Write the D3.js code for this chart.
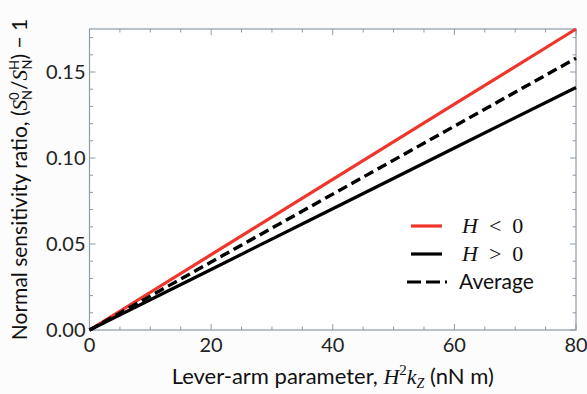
<!DOCTYPE html>
<html>
<head>
<meta charset="utf-8">
<script src="https://cdn.jsdelivr.net/npm/d3@7"></script>
<style>
body{margin:0;background:#fcfcfd;}
</style>
</head>
<body>
<div class="box"></div>
<script>
// values
const leverArm=[0,20,40,60,80];
const hNeg=[0,0.0438,0.0876,0.1313,0.175];
const hPos=[0,0.0352,0.0705,0.1058,0.141];
const average=[0,0.0395,0.079,0.1185,0.158];
const xTicks=[0,20,40,60,80];
const yTicks=[0,0.05,0.10,0.15];

const W=587,H=394;
const margin={top:29,right:11,bottom:64,left:89.5};
const graphW=W-margin.left-margin.right;
const graphH=H-margin.top-margin.bottom;

const svg=d3.select('.box').append('svg').attr('width',W).attr('height',H).style('background','#fcfcfd');
const g=svg.append('g').attr('transform',`translate(${margin.left},${margin.top})`);

const x=d3.scaleLinear().domain([0,80]).range([0,graphW]);
const y=d3.scaleLinear().domain([0,0.175]).range([graphH,0]);

const axisCol='#8d9ba6';
const font='Lato, "Open Sans", sans-serif';

// frame
g.append('rect').attr('width',graphW).attr('height',graphH)
  .attr('fill','#ffffff').attr('stroke',axisCol).attr('stroke-width',1.2);

// ticks, inward on all sides
const xMinor=d3.range(0,81,5).filter(v => v%20!==0);
const yMinor=d3.range(0,0.1751,0.01).filter(v => Math.round(v*100)%5!==0);
const tickLine=(sel,data,len,side) => {
  sel.selectAll(null).data(data).enter().append('line')
    .attr('stroke',axisCol).attr('stroke-width',1)
    .each(function(v){
      const l=d3.select(this);
      if(side==='b') l.attr('x1',x(v)).attr('x2',x(v)).attr('y1',graphH).attr('y2',graphH-len);
      if(side==='t') l.attr('x1',x(v)).attr('x2',x(v)).attr('y1',0).attr('y2',len);
      if(side==='l') l.attr('y1',y(v)).attr('y2',y(v)).attr('x1',0).attr('x2',len);
      if(side==='r') l.attr('y1',y(v)).attr('y2',y(v)).attr('x1',graphW).attr('x2',graphW-len);
    });
};
const ticks=g.append('g');
['b','t'].forEach(s => {tickLine(ticks,xTicks,6,s);tickLine(ticks,xMinor,3.5,s);});
['l','r'].forEach(s => {tickLine(ticks,yTicks,6,s);tickLine(ticks,yMinor,3.5,s);});

// tick labels
g.selectAll('.xl').data(xTicks).enter().append('text')
  .attr('x',d => x(d)).attr('y',graphH+22)
  .attr('text-anchor','middle').attr('font-family',font).attr('font-size',20).attr('fill','#222')
  .text(d => d);
g.selectAll('.yl').data(yTicks).enter().append('text')
  .attr('x',-4).attr('y',d => y(d)+7)
  .attr('text-anchor','end').attr('font-family',font).attr('font-size',20).attr('fill','#222')
  .text(d => d3.format('.2f')(d));

// curves
const line=d3.line().x((d,i) => x(leverArm[i])).y(d => y(d));
g.append('path').datum(hNeg).attr('d',line).attr('fill','none').attr('stroke','#f0352a').attr('stroke-width',3.2);
g.append('path').datum(average).attr('d',line).attr('fill','none').attr('stroke','#000').attr('stroke-width',3.4).attr('stroke-dasharray','10,5');
g.append('path').datum(hPos).attr('d',line).attr('fill','none').attr('stroke','#000').attr('stroke-width',3.2);

// legend
const serif='"Liberation Serif", "DejaVu Serif", serif';
const leg=svg.append('g');
const items=[
  {col:'#f0352a',dash:null,y:226},
  {col:'#000',dash:null,y:254},
  {col:'#000',dash:'14,5',y:282}
];
items.forEach(it => {
  leg.append('line').attr('x1',it.dash?407:411).attr('x2',it.dash?447:442).attr('y1',it.y).attr('y2',it.y)
    .attr('stroke',it.col).attr('stroke-width',3.2).attr('stroke-dasharray',it.dash);
});
const mathLabel=(yy,op) => {
  const t=leg.append('text').attr('x',462).attr('y',yy+7).attr('font-family',serif).attr('font-size',22).attr('fill','#111')
    .attr('xml:space','preserve');
  t.append('tspan').attr('font-style','italic').text('H');
  t.append('tspan').text('  '+op+'  0');
};
mathLabel(226,'<');
mathLabel(254,'>');
leg.append('text').attr('x',459).attr('y',282+7).attr('font-family',font).attr('font-size',21).attr('fill','#111').text('Average');

// x title
const xt=svg.append('text').attr('x',margin.left+graphW/2).attr('y',384)
  .attr('text-anchor','middle').attr('font-family',font).attr('font-size',22).attr('fill','#111');
xt.append('tspan').text('Lever-arm parameter, ');
xt.append('tspan').attr('font-family',serif).attr('font-style','italic').text('H');
xt.append('tspan').attr('font-family',serif).attr('font-size',15).attr('dy',-9).text('2');
xt.append('tspan').attr('font-family',serif).attr('font-style','italic').attr('dy',9).text('k');
xt.append('tspan').attr('font-family',serif).attr('font-style','italic').attr('font-size',14).attr('dy',4).text('Z');
xt.append('tspan').attr('dy',-4).text(' (nN m)');

// y title
const yt=svg.append('text').attr('transform',`translate(27,${margin.top+graphH/2}) rotate(-90)`)
  .attr('text-anchor','middle').attr('font-family',font).attr('font-size',21).attr('fill','#111');
yt.append('tspan').text('Normal sensitivity ratio, (');
yt.append('tspan').attr('font-family',serif).attr('font-style','italic').text('S');
yt.append('tspan').attr('font-size',13).attr('dy',-8).text('0');
yt.append('tspan').attr('font-size',13).attr('dx',-7.5).attr('dy',13).text('N');
yt.append('tspan').attr('dy',-5).text('/');
yt.append('tspan').attr('font-family',serif).attr('font-style','italic').text('S');
yt.append('tspan').attr('font-size',13).attr('dy',-8).text('H');
yt.append('tspan').attr('font-size',13).attr('dx',-9.5).attr('dy',13).text('N');
yt.append('tspan').attr('dy',-5).text(') \u2212 1');
</script>
</body>
</html>
